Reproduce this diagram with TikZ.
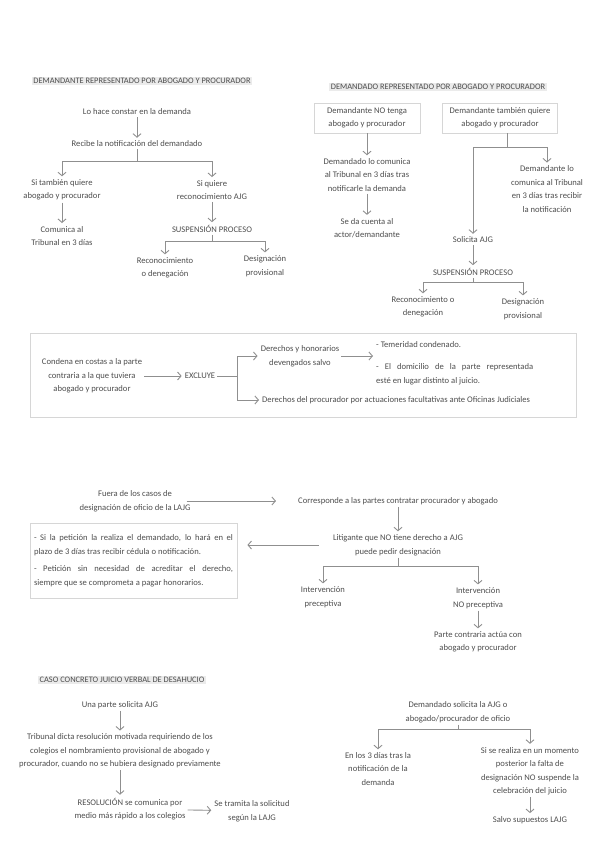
\documentclass[tikz,border=0pt]{standalone}
\usepackage{fontspec}
\setmainfont{Carlito}
\usetikzlibrary{arrows.meta}
\definecolor{txtgray}{HTML}{4D4D4D}
\definecolor{arrgray}{HTML}{8F8F8F}
\definecolor{boxgray}{HTML}{D6D6D6}
\definecolor{headbg}{HTML}{EBEBEB}

\begin{document}
\begin{tikzpicture}[x=1pt,y=-1pt,font=\fontsize{8.6}{13.5}\selectfont,
  txt/.style={align=center,text=txtgray,inner sep=2pt},
  head/.style={fill=headbg,text=txtgray,inner sep=1.5pt,font=\fontsize{8.4}{9}\selectfont},
  arr/.style={draw=arrgray,line width=0.9pt,-{Straight Barb[length=3.5pt,width=8pt]},shorten >=1pt},
  ln/.style={draw=arrgray,line width=0.9pt},
  frame/.style={draw=boxgray,line width=0.8pt}]
\useasboundingbox (0,0) rectangle (599,848);

% demandante representado
\node[head] (h1) at(142,81){DEMANDANTE REPRESENTADO POR ABOGADO Y PROCURADOR};
\node[txt] (hace) at(137,112){Lo hace constar en la demanda};
\node[txt] (rec) at(137,144){Recibe la notificación del demandado};
\coordinate (f1) at(137,161);
\node[txt] (tamb) at(62,190){Si también quiere\\abogado y procurador};
\node[txt] (com) at(62,236){Comunica al\\Tribunal en 3 días};
\node[txt] (quiere) at(212,190){Si quiere\\reconocimiento AJG};
\node[txt] (susp1) at(212,229){SUSPENSIÓN PROCESO};
\coordinate (f2) at(212,241);
\node[txt] (recon1) at(165,268){Reconocimiento\\o denegación};
\node[txt] (desig1) at(265,266){Designación\\provisional};

\draw[arr] (hace) -- (rec);
\draw[ln] (rec) -- (f1);
\draw[arr] (f1) -| (tamb);
\draw[arr] (f1) -| (quiere);
\draw[arr] (tamb) -- (com);
\draw[arr] (quiere) -- (susp1);
\draw[ln] (susp1) -- (f2);
\draw[arr] (f2) -| (recon1);
\draw[arr] (f2) -| (desig1);

% demandado representado
\node[head] (h2) at(438,87){DEMANDADO REPRESENTADO POR ABOGADO Y PROCURADOR};
\node[txt,frame,minimum width=106pt,minimum height=30pt] (nob) at(367,118){Demandante NO tenga\\abogado y procurador};
\node[txt,frame,minimum width=115pt,minimum height=30pt] (tbq) at(500,118){Demandante también quiere\\abogado y procurador};
\node[txt] (dem) at(367,175){Demandado lo comunica\\al Tribunal en 3 días tras\\notificarle la demanda};
\node[txt] (cuenta) at(367,228){Se da cuenta al\\actor/demandante};
\coordinate (f3) at(507,147);
\node[txt] (lo) at(547,189){Demandante lo\\comunica al Tribunal\\en 3 días tras recibir\\la notificación};
\node[txt] (sol) at(473,240){Solicita AJG};
\node[txt] (susp2) at(473,272){SUSPENSIÓN PROCESO};
\coordinate (f4) at(473,282);
\node[txt] (recon2) at(423,307){Reconocimiento o\\denegación};
\node[txt] (desig2) at(523,309){Designación\\provisional};

\draw[arr] (nob) -- (dem);
\draw[arr] (dem) -- (cuenta);
\draw[ln] (f3 |- tbq.south) -- (f3);
\draw[arr] (f3) -| (lo);
\draw[arr] (f3) -| (sol);
\draw[arr] (sol) -- (susp2);
\draw[ln] (susp2) -- (f4);
\draw[arr] (f4) -| (recon2);
\draw[arr] (f4) -| (desig2);

% costas
\draw[frame] (30,333) rectangle (576,417);
\node[txt] (cond) at(92,376){Condena en costas a la parte\\contraria a la que tuviera\\abogado y procurador};
\node[txt] (excl) at(200,376){EXCLUYE};
\coordinate (f5) at(237,376);
\node[txt] (derh) at(300,356){Derechos y honorarios\\devengados salvo};
\node[txt,anchor=west] (tem) at(374,345){- Temeridad condenado.};
\node[txt,anchor=west,text width=157pt,align=justify] (dom) at(374,374){- El domicilio de la parte representada\linebreak esté en lugar distinto al juicio.};
\node[txt,anchor=west] (dproc) at(260,400){Derechos del procurador por actuaciones facultativas ante Oficinas Judiciales};

\draw[arr] (cond) -- (excl);
\draw[ln] (excl) -- (f5);
\draw[arr] (f5) |- (derh);
\draw[arr] (f5) |- (dproc);
\draw[arr] (derh.east) -- (derh.east -| tem.west);

% designacion
\node[txt] (fuera) at(135,501){Fuera de los casos de\\designación de oficio de la LAJG};
\node[txt] (corr) at(398,501){Corresponde a las partes contratar procurador y abogado};
\node[txt] (lit) at(398,545){Litigante que NO tiene derecho a AJG\\puede pedir designación};
\node[txt,frame,text width=199pt,align=justify,inner sep=4pt,minimum height=75pt] (peti) at(133.5,560.5){- Si la petición la realiza el demandado, lo hará en el\linebreak plazo de 3 días tras recibir cédula o notificación.\par\vspace{4pt}- Petición sin necesidad de acreditar el derecho,\linebreak siempre que se comprometa a pagar honorarios.};
\coordinate (f6) at(398,566);
\node[txt] (int1) at(323,597){Intervención\\preceptiva};
\node[txt] (int2) at(478,598){Intervención\\NO preceptiva};
\node[txt] (parte) at(478,642){Parte contraria actúa con\\abogado y procurador};

\draw[arr,shorten <=-6pt,shorten >=20pt] (fuera) -- (corr);
\draw[arr] (corr) -- (lit);
\draw[arr,shorten <=12pt,shorten >=10pt] (lit.west) -- (lit.west -| peti.east);
\draw[ln] (lit) -- (f6);
\draw[arr] (f6) -| (int1);
\draw[arr] (f6) -| (int2);
\draw[arr] (int2) -- (parte);

% desahucio
\node[head] (h3) at(122,680){CASO CONCRETO JUICIO VERBAL DE DESAHUCIO};
\node[txt] (una) at(120,705){Una parte solicita AJG};
\node[txt] (trib) at(120,751){Tribunal dicta resolución motivada requiriendo de los\\colegios el nombramiento provisional de abogado y\\procurador, cuando no se hubiera designado previamente};
\node[txt] (resol) at(130,809){RESOLUCIÓN se comunica por\\medio más rápido a los colegios};
\node[txt] (tram) at(252,811){Se tramita la solicitud\\según la LAJG};
\node[txt] (ddo) at(458,712){Demandado solicita la AJG o\\abogado/procurador de oficio};
\coordinate (f7) at(458,729);
\node[txt] (en3) at(378,769){En los 3 días tras la\\notificación de la\\demanda};
\node[txt] (sise) at(530,771){Si se realiza en un momento\\posterior la falta de\\designación NO suspende la\\celebración del juicio};
\node[txt] (salvo) at(530,820){Salvo supuestos LAJG};

\draw[arr] (una) -- (trib);
\draw[arr] (trib.south) -- (trib.south |- resol.north);
\draw[arr] (resol) -- (tram);
\draw[ln] (ddo) -- (f7);
\draw[arr] (f7) -| (en3);
\draw[arr] (f7) -| (sise);
\draw[arr] (sise) -- (salvo);
\end{tikzpicture}
\end{document}
